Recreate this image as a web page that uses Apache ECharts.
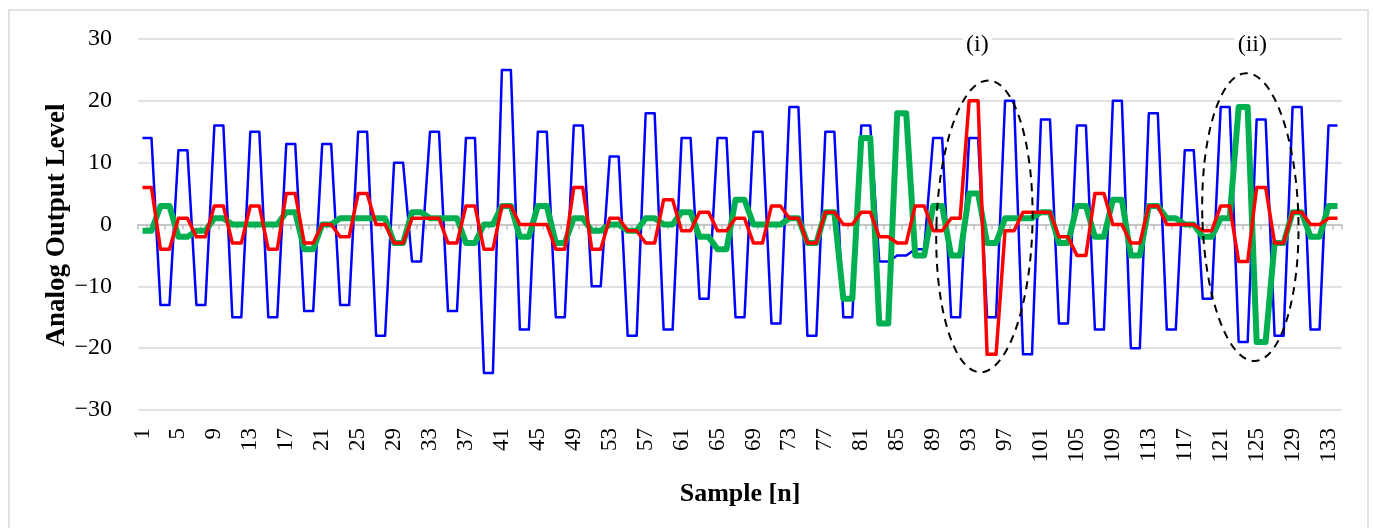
<!DOCTYPE html>
<html>
<head>
<meta charset="utf-8">
<title>Analog Output Level</title>
<script src="https://cdn.jsdelivr.net/npm/echarts@6/dist/echarts.min.js"></script>
<style>
  html, body { margin: 0; padding: 0; background: #fff; }
  #main { width: 1373px; height: 528px; }
</style>
</head>
<body>
<div id="main"></div>
<script>
// sample index on the x axis: 1..134
var samples = Array.from({ length: 134 }, function (_, i) { return String(i + 1); });

var yTicks = [-30, -20, -10, 0, 10, 20, 30];

// blue trace (thin)
var blueData = [
  14, 14, -13, -13, 12, 12, -13, -13, 16, 16, -15, -15, 15, 15, -15, -15,
  13, 13, -14, -14, 13, 13, -13, -13, 15, 15, -18, -18, 10, 10, -6, -6,
  15, 15, -14, -14, 14, 14, -24, -24, 25, 25, -17, -17, 15, 15, -15, -15,
  16, 16, -10, -10, 11, 11, -18, -18, 18, 18, -17, -17, 14, 14, -12, -12,
  14, 14, -15, -15, 15, 15, -16, -16, 19, 19, -18, -18, 15, 15, -15, -15,
  16, 16, -6, -6, -5, -5, -4, -4, 14, 14, -15, -15, 14, 14, -15, -15,
  20, 20, -21, -21, 17, 17, -16, -16, 16, 16, -17, -17, 20, 20, -20, -20,
  18, 18, -17, -17, 12, 12, -12, -12, 19, 19, -19, -19, 17, 17, -18, -18,
  19, 19, -17, -17, 16, 16
];

// green trace (thick)
var greenData = [
  -1, -1, 3, 3, -2, -2, -1, -1, 1, 1, 0, 0, 0, 0, 0, 0,
  2, 2, -4, -4, 0, 0, 1, 1, 1, 1, 1, 1, -3, -3, 2, 2,
  1, 1, 1, 1, -3, -3, 0, 0, 3, 3, -2, -2, 3, 3, -3, -3,
  1, 1, -1, -1, 0, 0, -1, -1, 1, 1, 0, 0, 2, 2, -2, -2,
  -4, -4, 4, 4, 0, 0, 0, 0, 1, 1, -3, -3, 2, 2, -12, -12,
  14, 14, -16, -16, 18, 18, -5, -5, 3, 3, -5, -5, 5, 5, -3, -3,
  1, 1, 1, 1, 2, 2, -3, -3, 3, 3, -2, -2, 4, 4, -5, -5,
  3, 3, 1, 1, 0, 0, -2, -2, 1, 1, 19, 19, -19, -19, -3, -3,
  2, 2, -2, -2, 3, 3
];

// red trace (medium)
var redData = [
  6, 6, -4, -4, 1, 1, -2, -2, 3, 3, -3, -3, 3, 3, -4, -4,
  5, 5, -3, -3, 0, 0, -2, -2, 5, 5, 0, 0, -3, -3, 1, 1,
  1, 1, -3, -3, 3, 3, -4, -4, 3, 3, 0, 0, 0, 0, -4, -4,
  6, 6, -4, -4, 1, 1, -1, -1, -3, -3, 4, 4, -1, -1, 2, 2,
  -1, -1, 1, 1, -3, -3, 3, 3, 1, 1, -3, -3, 2, 2, 0, 0,
  2, 2, -2, -2, -3, -3, 3, 3, -1, -1, 1, 1, 20, 20, -21, -21,
  -1, -1, 2, 2, 2, 2, -2, -2, -5, -5, 5, 5, 0, 0, -3, -3,
  3, 3, 0, 0, 0, 0, -1, -1, 3, 3, -6, -6, 6, 6, -3, -3,
  2, 2, 0, 0, 1, 1
];

// marked regions: [label, sample at left/right of centre, value at centre]
var marks = [
  { label: '(i)', from: 94, to: 95, frac: 0.7, value: -0.3, rx: 48, ry: 146, rot: -0.03, dx: -7 },
  { label: '(ii)', from: 124, to: 125, frac: 0.3, value: 1.2, rx: 48, ry: 144, rot: 0.03, dx: 2 }
];

var serif = '"Liberation Serif", "Times New Roman", serif';

var chartDom = document.getElementById('main');
var myChart = echarts.init(chartDom);
var option;

option = {
  animation: false,
  backgroundColor: '#FFF',
  grid: { left: 138, right: 31, top: 39, bottom: 118 },
  xAxis: [
    {
      type: 'category',
      data: samples,
      boundaryGap: true,
      axisLine: { show: false, onZero: false },
      axisTick: { show: false },
      axisLabel: {
        interval: 3,
        rotate: 90,
        margin: 18,
        color: '#000',
        fontFamily: serif,
        fontSize: 23
      },
      splitLine: { show: false }
    },
    {
      type: 'category',
      data: samples,
      position: 'top',
      boundaryGap: true,
      axisLine: { show: true, onZero: true, lineStyle: { color: '#bfbfbf', width: 1.5 } },
      axisTick: { show: true, inside: true, interval: 0, length: 5, lineStyle: { color: '#bfbfbf', width: 1.5 } },
      axisLabel: { show: false },
      splitLine: { show: false }
    }
  ],
  yAxis: {
    type: 'value',
    min: yTicks[0],
    max: yTicks[yTicks.length - 1],
    interval: 10,
    axisLine: { show: false },
    axisTick: { show: false },
    axisLabel: {
      margin: 26,
      color: '#000',
      fontFamily: serif,
      fontSize: 24,
      formatter: function (v) { return String(v).replace('-', '\u2212'); }
    },
    splitLine: { lineStyle: { color: '#d9d9d9', width: 1.5 } }
  },
  series: [
    {
      type: 'line',
      data: blueData,
      symbol: 'none',
      lineStyle: { color: '#0000ff', width: 2.5, join: 'round' },
      z: 2
    },
    {
      type: 'line',
      data: greenData,
      symbol: 'none',
      lineStyle: { color: '#00b050', width: 6, join: 'round' },
      z: 3
    },
    {
      type: 'line',
      data: redData,
      symbol: 'none',
      lineStyle: { color: '#ff0000', width: 3.5, join: 'round' },
      z: 4
    }
  ]
};

option && myChart.setOption(option);

// annotations placed from the axes' own scales
var graphics = [
  {
    type: 'rect',
    shape: { x: 9, y: 10, width: 1359, height: 540 },
    style: { fill: 'none', stroke: '#d9d9d9', lineWidth: 1.5 },
    silent: true,
    z: 0
  },
  {
    type: 'text',
    x: 57, y: 225,
    rotation: Math.PI / 2,
    style: {
      text: 'Analog Output Level',
      font: 'bold 27px ' + serif,
      fill: '#000',
      align: 'center',
      verticalAlign: 'middle'
    }
  },
  {
    type: 'text',
    x: 740, y: 494,
    style: {
      text: 'Sample [n]',
      font: 'bold 26px ' + serif,
      fill: '#000',
      align: 'center',
      verticalAlign: 'middle'
    }
  }
];

marks.forEach(function (m) {
  var a = myChart.convertToPixel({ xAxisIndex: 0, yAxisIndex: 0 }, [m.from - 1, m.value]);
  var b = myChart.convertToPixel({ xAxisIndex: 0, yAxisIndex: 0 }, [m.to - 1, m.value]);
  var cx = a[0] + (b[0] - a[0]) * m.frac;
  var cy = a[1];
  var top = myChart.convertToPixel({ yAxisIndex: 0 }, yTicks[yTicks.length - 1]);
  graphics.push({
    type: 'ellipse',
    x: cx, y: cy,
    rotation: m.rot,
    shape: { cx: 0, cy: 0, rx: m.rx, ry: m.ry },
    style: { fill: 'none', stroke: '#000', lineWidth: 2, lineDash: [8, 6] },
    z: 10
  });
  graphics.push({
    type: 'text',
    x: cx + m.dx, y: top + 6,
    style: {
      text: m.label,
      font: '24px ' + serif,
      fill: '#000',
      align: 'center',
      verticalAlign: 'middle',
      backgroundColor: '#fff',
      padding: [0, 3]
    },
    z: 10
  });
});

myChart.setOption({ graphic: graphics });
</script>
</body>
</html>
